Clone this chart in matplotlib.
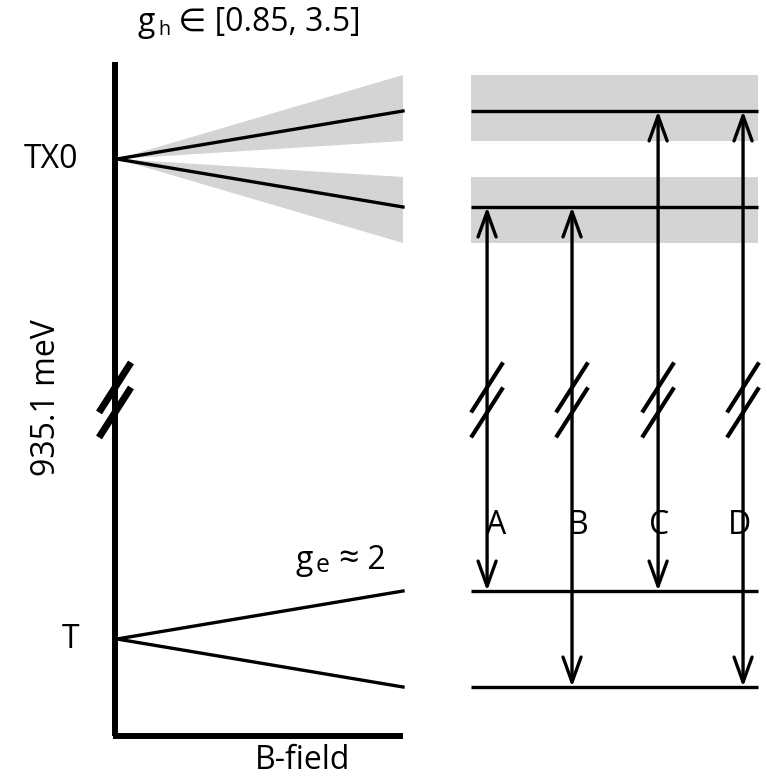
import matplotlib
matplotlib.use("Agg")
import matplotlib.pyplot as plt
from matplotlib.patches import FancyArrowPatch, Polygon, Rectangle
from matplotlib.transforms import IdentityTransform

plt.rcParams['font.family'] = ['Open Sans', 'DejaVu Sans']

# Energy axis: unit = Zeeman splitting at full field; trion sits above the ground state
E_T = 0.0
E_TX = 10.0
ELECTRON_SPLIT = [1.0, -1.0]            # g_e ~ 2 branches
HOLE_SPLIT = [1.0, -1.0]                 # trion branches (central g_h)
HOLE_BAND_LO = [0.375, -0.375]           # g_h = 0.85 edge
HOLE_BAND_HI = [1.75, -1.75]             # g_h = 3.5 edge
B_MAX = 1.0

# Transitions: (label, x position, trion branch index, ground branch index)
transition_labels = ['A', 'B', 'C', 'D']
transition_x = [1.294, 1.591, 1.892, 2.189]
transition_label_x = [1.325, 1.612, 1.895, 2.178]
transition_upper = [1, 1, 0, 0]
transition_lower = [0, 1, 0, 1]

levels_x = [1.238, 2.241]
break_E = 4.98

fig = plt.figure(figsize=(7.67, 7.78), dpi=100)
ax = fig.add_axes([0, 0, 1, 1])
ax.set_xlim(-117 / 286, 650 / 286)
ax.set_ylim(-139 / 48, 639 / 48)
ax.axis('off')

LW_AX = 4.3
LW = 2.4
GRAY = '#d4d4d4'

# axes of the Zeeman fan
ax.plot([-0.007, -0.007], [12.02, -2.02], color='black', lw=LW_AX, solid_capstyle='butt', zorder=3)
ax.plot([-0.014, B_MAX], [-2.02, -2.02], color='black', lw=LW_AX, solid_capstyle='butt', zorder=3)

# trion fan with g-factor uncertainty bands
for lo, hi, mid in zip(HOLE_BAND_LO, HOLE_BAND_HI, HOLE_SPLIT):
    ax.add_patch(Polygon([[0, E_TX], [B_MAX, E_TX + lo], [B_MAX, E_TX + hi]],
                         closed=True, facecolor=GRAY, edgecolor='none', zorder=1))
    ax.plot([0, B_MAX], [E_TX, E_TX + mid], color='black', lw=LW, zorder=2)

# electron fan
for s in ELECTRON_SPLIT:
    ax.plot([0, B_MAX], [E_T, E_T + s], color='black', lw=LW, zorder=2)

# level diagram at full field
for lo, hi in zip(HOLE_BAND_LO, HOLE_BAND_HI):
    y0, y1 = sorted([E_TX + lo, E_TX + hi])
    ax.add_patch(Rectangle((levels_x[0], y0), levels_x[1] - levels_x[0], y1 - y0,
                           facecolor=GRAY, edgecolor='none', zorder=1))
for s in HOLE_SPLIT:
    ax.plot(levels_x, [E_TX + s, E_TX + s], color='black', lw=LW, solid_capstyle='butt', zorder=2)
for s in ELECTRON_SPLIT:
    ax.plot(levels_x, [E_T + s, E_T + s], color='black', lw=LW, solid_capstyle='butt', zorder=2)

# optical transitions
for lab, x, iu, il in zip(transition_labels, transition_x, transition_upper, transition_lower):
    y_top = E_TX + HOLE_SPLIT[iu]
    y_bot = E_T + ELECTRON_SPLIT[il]
    arr = FancyArrowPatch((x, y_bot), (x, y_top),
                          arrowstyle='<->,head_length=18,head_width=6.5',
                          mutation_scale=1, shrinkA=0, shrinkB=0,
                          color='black', lw=LW, zorder=3)
    ax.add_patch(arr)


def axis_break(x, yc, lw):
    dx = 16 / 286
    dy = 25 / 48
    off = 12.5 / 48
    for yy in (yc + off, yc - off):
        ax.plot([x - dx, x + dx], [yy - dy, yy + dy], color='black', lw=lw,
                solid_capstyle='butt', zorder=4)


axis_break(-0.007, break_E, 5.0)
for x in transition_x:
    axis_break(x, break_E, 3.0)

FS = 23
renderer = fig.canvas.get_renderer()


def chained_text(x, y, parts, ha='left'):
    """Place text pieces side by side on a common baseline (x, y in data units).
    parts: (string, fontsize, baseline shift in px (down positive), gap before in px)."""
    x0, y0 = ax.transData.transform((x, y))
    items = []
    cursor = 0.0
    for s, size, dy, gap in parts:
        cursor += gap
        t = fig.text(0, 0, s, fontsize=size, ha='left', va='baseline',
                     transform=IdentityTransform())
        w = t.get_window_extent(renderer).width
        items.append((t, cursor, dy))
        cursor += w
    shift = {'left': 0.0, 'center': -cursor / 2, 'right': -cursor}[ha]
    for t, cx, dy in items:
        t.set_position((x0 + shift + cx, y0 - dy))


# labels
chained_text(0.0717, (639 - 31) / 48,
             [('g', FS, 0, 0), ('h', FS * 0.62, 4, 3), (' ∈ [0.85, 3.5]', FS, 0, 0)])
chained_text(0.625, (639 - 569) / 48,
             [('g', FS, 0, 0), ('e', FS * 0.78, 3, 3), (' ', FS, 0, 0),
              ('≈', FS * 1.12, 0, 0), (' 2', FS, 0, 0)])
ax.text(-0.231, E_TX, 'TX0', fontsize=FS, ha='center', va='center')
ax.text(-0.161, E_T, 'T', fontsize=FS, ha='center', va='center')
ax.text(-0.248, (639 - 398) / 48, '935.1 meV', fontsize=FS, ha='center', va='center',
        rotation=90)
ax.text(0.65, -2.53, 'B-field', fontsize=FS, ha='center', va='center')
for lab, x in zip(transition_labels, transition_label_x):
    ax.text(x, (639 - 525) / 48, lab, fontsize=FS, ha='center', va='center', zorder=5)

fig.savefig('out.png', dpi=100)
